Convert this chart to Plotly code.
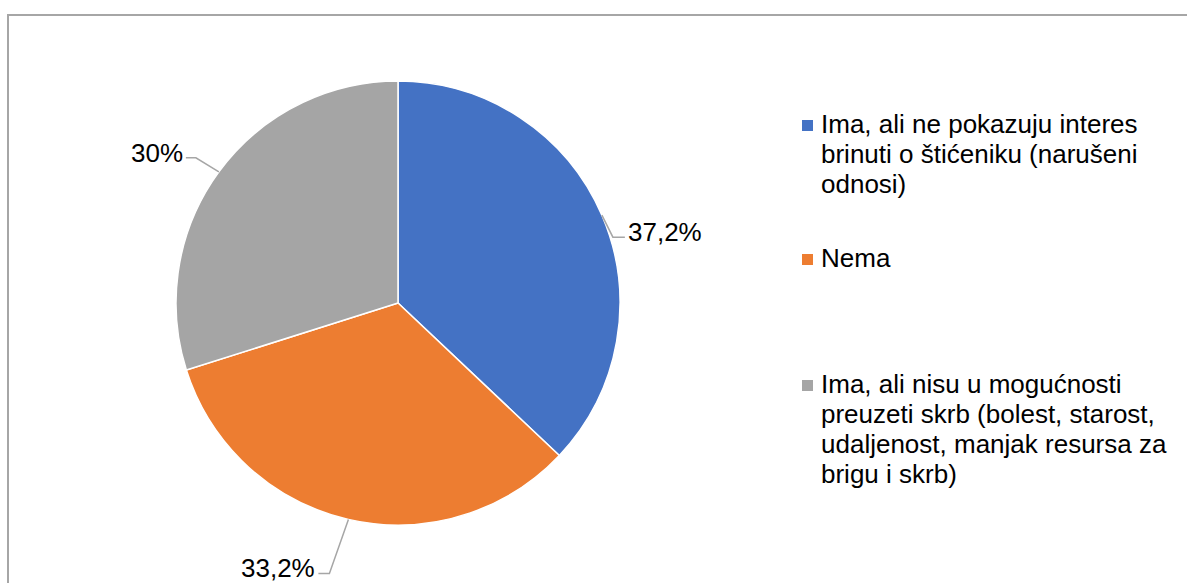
import math
import plotly.graph_objects as go

# ---------------- data ----------------
categories = [
    "Ima, ali ne pokazuju interes<br>brinuti o štićeniku (narušeni<br>odnosi)",
    "Nema",
    "Ima, ali nisu u mogućnosti<br>preuzeti skrb (bolest, starost,<br>udaljenost, manjak resursa za<br>brigu i skrb)",
]
values = [37.2, 33.2, 30.0]
value_labels = ["37,2%", "33,2%", "30%"]

# ---------------- style / layout ----------------
colors = ["#4472C4", "#ED7D31", "#A5A5A5"]
W, H = 1187, 583
CX, CY, R = 398, 303, 222          # pie centre / radius in pixels
FONT = "Liberation Sans, Arial, sans-serif"
FS = 26
TXT = "#000000"
LEADER = "#A6A6A6"
# per-label leader elbow offset (px from slice anchor), horizontal tail length
elbow_offsets = [(11, 22), (-19, 54), (-23, -14)]
tail_len = [12, 11, 10]
legend_baselines = [133, 267, 393]
legend_line_gap = 30
legend_text_x = 819
legend_box_x = (802, 813)


def px(x):
    return x / W


def py(y):
    return 1 - y / H


fig = go.Figure(
    go.Pie(
        labels=[c.replace("<br>", " ") for c in categories],
        values=values,
        marker=dict(colors=colors, line=dict(color="white", width=1.5)),
        sort=False,
        direction="clockwise",
        rotation=0,
        textinfo="none",
        hovertext=value_labels,
        hoverinfo="label+text",
        domain=dict(x=[px(CX - R), px(CX + R)], y=[py(CY + R), py(CY - R)]),
        showlegend=False,
    )
)

shapes = []
annotations = []

# outer border (top & left visible, the rest runs off the canvas)
shapes.append(dict(type="rect", xref="paper", yref="paper",
                   x0=px(8), y0=py(15), x1=px(W + 10), y1=py(H + 10),
                   line=dict(color=LEADER, width=2)))

# data labels with leader lines, anchored on slice mid-angles
total = sum(values)
cum = 0.0
for i, v in enumerate(values):
    mid = (cum + v / 2) / total * 2 * math.pi
    cum += v
    ax = CX + R * math.sin(mid)
    ay = CY - R * math.cos(mid)
    dx, dy = elbow_offsets[i]
    ex, ey = ax + dx, ay + dy
    side = 1 if dx > 0 else -1
    tx = ex + side * tail_len[i]
    shapes.append(dict(type="path", xref="paper", yref="paper",
                       path=f"M {px(ax)},{py(ay)} L {px(ex)},{py(ey)} L {px(tx)},{py(ey)}",
                       line=dict(color=LEADER, width=1.5)))
    annotations.append(dict(xref="paper", yref="paper",
                            x=px(tx + side * 1), y=py(ey - 5),
                            xanchor="left" if side > 0 else "right", yanchor="middle",
                            text=value_labels[i], showarrow=False,
                            font=dict(family=FONT, size=FS, color=TXT)))

# legend (manual, to reproduce spacing)
for i, cat in enumerate(categories):
    base = legend_baselines[i]
    shapes.append(dict(type="rect", xref="paper", yref="paper",
                       x0=px(legend_box_x[0]), x1=px(legend_box_x[1]),
                       y0=py(base - 13), y1=py(base - 2),
                       fillcolor=colors[i], line=dict(width=0)))
    for j, line in enumerate(cat.split("<br>")):
        yb = base + j * legend_line_gap
        annotations.append(dict(xref="paper", yref="paper",
                                x=px(legend_text_x), y=py(yb - 9),
                                xanchor="left", yanchor="middle",
                                text=line, showarrow=False,
                                font=dict(family=FONT, size=FS, color=TXT)))

fig.update_layout(
    width=W, height=H,
    margin=dict(l=0, r=0, t=0, b=0),
    paper_bgcolor="white", plot_bgcolor="white",
    font=dict(family=FONT, size=FS, color=TXT),
    shapes=shapes, annotations=annotations,
    showlegend=False,
)

fig.write_html("out.html", config={"displayModeBar": False},
               post_script="document.body.style.margin='0';")
